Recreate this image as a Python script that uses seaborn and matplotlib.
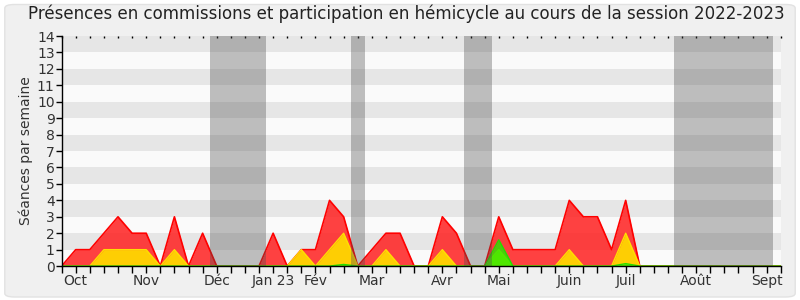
import numpy as np
import pandas as pd
import matplotlib
matplotlib.use("Agg")
import matplotlib.pyplot as plt
import seaborn as sns
from matplotlib.patches import FancyBboxPatch

# ---- data (one value per week, 52 weeks) ----
weeks = list(range(52))
red_total = [0, 1, 1, 2, 3, 2, 2, 0, 3, 0, 2, 0, 0, 0, 0, 2, 0, 1, 1, 4,
             3, 0, 1, 2, 2, 0, 0, 3, 2, 0, 0, 3, 1, 1, 1, 1, 4, 3, 3, 1,
             4, 0, 0, 0, 0, 0, 0, 0, 0, 0, 0, 0]
yellow_comm = [0, 0, 0, 1, 1, 1, 1, 0, 1, 0, 0, 0, 0, 0, 0, 0, 0, 1, 0, 1,
               2, 0, 0, 1, 0, 0, 0, 1, 0, 0, 0, 1, 0, 0, 0, 0, 1, 0, 0, 0,
               2, 0, 0, 0, 0, 0, 0, 0, 0, 0, 0, 0]
green_hemi = [0, 0, 0, 0, 0, 0, 0, 0, 0, 0, 0, 0, 0, 0, 0, 0, 0, 0, 0, 0,
              0.1, 0, 0, 0, 0, 0, 0, 0, 0, 0, 0, 1.6, 0, 0, 0, 0, 0, 0, 0, 0,
              0.15, 0, 0, 0, 0, 0, 0, 0, 0, 0, 0, 0]
vacations = [(10.5, 14.5), (20.5, 21.5), (28.5, 30.5), (43.45, 50.45)]
month_pos = [1, 6, 11, 15, 18, 22, 27, 31, 36, 40, 45, 50]
month_labels = ["Oct", "Nov", "Déc", "Jan 23", "Fév", "Mar", "Avr", "Mai",
                "Juin", "Juil", "Août", "Sept"]

df = pd.DataFrame({"week": weeks, "red": red_total, "yellow": yellow_comm,
                   "green": green_hemi})

sns.set_theme(style="white")
plt.rcParams["font.family"] = ["DejaVu Sans"]

fig = plt.figure(figsize=(8, 3), dpi=100)
fig.patch.set_facecolor("white")
bg = FancyBboxPatch((0.006, 0.01), 0.988, 0.975,
                    boxstyle="round,pad=0,rounding_size=0.012",
                    transform=fig.transFigure, facecolor="#f0f0f0",
                    edgecolor="#e2e2e2", linewidth=1.0, zorder=-10)
fig.patches.append(bg)

ax = fig.add_axes([0.077, 0.113, 0.899, 0.767])
ax.set_facecolor("#fafafa")
for k in range(1, 14, 2):
    ax.axhspan(k, k + 1, color="#e6e6e6", lw=0, zorder=0)

# areas
ax.fill_between(df["week"], df["red"], color="#ff2020", alpha=0.85, lw=0, zorder=2)
sns.lineplot(data=df, x="week", y="red", ax=ax, color="#ff0000", lw=1.2, zorder=3)
ax.fill_between(df["week"], df["yellow"], color="#ffd700", alpha=0.95, lw=0, zorder=4)
sns.lineplot(data=df, x="week", y="yellow", ax=ax, color="#ffe000", lw=1.0, zorder=5)
ax.fill_between(df["week"], df["green"], color="#22ee00", alpha=0.8, lw=0, zorder=6)
sns.lineplot(data=df, x="week", y="green", ax=ax, color="#22dd00", lw=1.0, zorder=7)

for a, b in vacations:
    ax.axvspan(a, b, color="#4c4c4c", alpha=0.35, lw=0, zorder=8)

ax.set_xlim(0, 51)
ax.set_ylim(0, 14)
ax.set_xticks(weeks[:52])
labels = [""] * 52
for p, l in zip(month_pos, month_labels):
    labels[p] = l
ax.set_xticklabels(labels, fontsize=10, color="#333333")
ax.set_yticks(range(15))
ax.set_yticklabels([str(i) for i in range(15)], fontsize=10, color="#333333")
ax.tick_params(axis="x", direction="out", length=5, width=1, color="black", pad=1,
               bottom=True)
ax.tick_params(axis="y", direction="out", length=4, width=1, color="black", pad=1,
               left=True)
for s in ["top", "right"]:
    ax.spines[s].set_visible(False)
for s in ["left", "bottom"]:
    ax.spines[s].set_color("black")
    ax.spines[s].set_linewidth(1)
    ax.spines[s].set_zorder(10)
ax.set_xlabel("")
ax.set_ylabel("Séances par semaine", fontsize=10, color="#333333", labelpad=3)

top = ax.secondary_xaxis("top")
top.set_xticks(weeks[:52])
top.set_xticklabels([])
top.tick_params(direction="in", length=1.5, width=1, color="black")
top.spines["top"].set_visible(False)

fig.suptitle("Présences en commissions et participation en hémicycle au cours de la session 2022-2023",
             x=0.508, y=0.985, fontsize=12, color="#222222", va="top")

fig.savefig("out.png", dpi=100, facecolor=fig.get_facecolor())
